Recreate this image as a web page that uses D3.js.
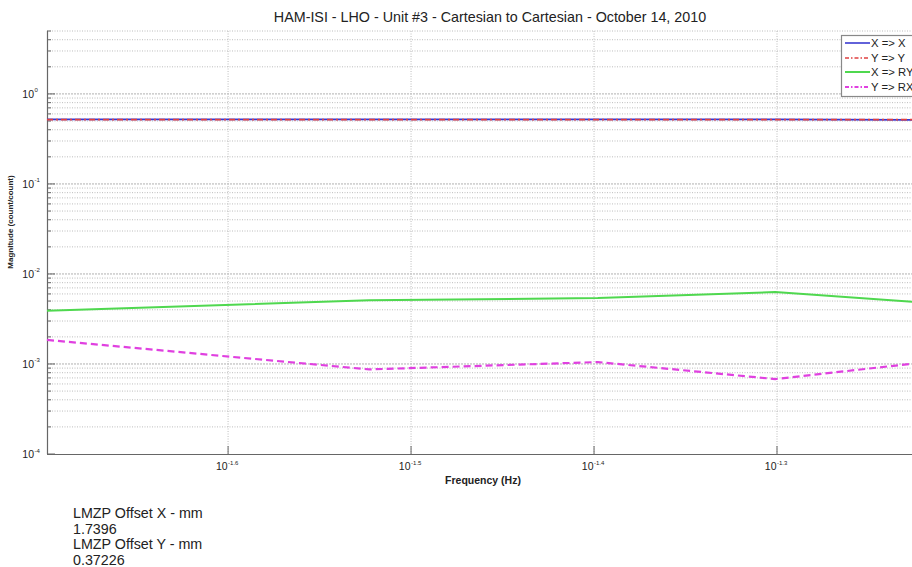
<!DOCTYPE html>
<html><head><meta charset="utf-8">
<script src="https://cdn.jsdelivr.net/npm/d3@7"></script>
<style>body{margin:0;background:#fff}svg{display:block;font-family:"Liberation Sans",Arial,sans-serif}</style>
</head><body>
<script>
const frequencies = [0.02, 0.03, 0.04, 0.05, 0.06];
const xToX = [0.522, 0.522, 0.522, 0.522, 0.515];
const yToY = [0.518, 0.518, 0.518, 0.518, 0.518];
const xToRY = [0.0039, 0.0051, 0.0054, 0.0063, 0.00485];
const yToRX = [0.00185, 0.00087, 0.00105, 0.00068, 0.00103];
const seriesNames = ["X => X", "Y => Y", "X => RY", "Y => RX"];
const xTickExps = [-1.6, -1.5, -1.4, -1.3];
const xTickLabels = ["-1.6", "-1.5", "-1.4", "-1.3"];
const yTickExps = [-4, -3, -2, -1, 0];
const yTickLabels = ["-4", "-3", "-2", "-1", "0"];
const titleText = "HAM-ISI - LHO - Unit #3 - Cartesian to Cartesian - October 14, 2010";
const notes = ["LMZP Offset X - mm", "1.7396", "LMZP Offset Y - mm", "0.37226"];

const W = 912, H = 567;
const m = {left: 47, right: 920, top: 31, bottom: 454};
const svg = d3.select("body").append("svg").attr("width", W).attr("height", H);
const x = d3.scaleLog().domain([0.02, 0.06]).range([m.left, m.right]);
const y = d3.scaleLog().domain([1e-4, 5]).range([m.bottom, m.top]);

const yMinor = [];
for (let e = -4; e <= 0; e++) for (let k = 2; k <= 9; k++) { const v = k * Math.pow(10, e); if (v <= 5) yMinor.push(v); }
const yMajor = yTickExps.map(e => Math.pow(10, e));
const xMajor = xTickExps.map(e => Math.pow(10, e));

const grid = svg.append("g");
grid.selectAll("line.ym").data(yMinor).join("line")
  .attr("x1", m.left).attr("x2", m.right).attr("y1", d => y(d)).attr("y2", d => y(d))
  .attr("stroke", "#bdbdbd").attr("stroke-width", 1).attr("stroke-dasharray", "1,1.5");
grid.selectAll("line.yM").data(yMajor.slice(1)).join("line")
  .attr("x1", m.left).attr("x2", m.right).attr("y1", d => y(d)).attr("y2", d => y(d))
  .attr("stroke", "#b0b0b0").attr("stroke-width", 1).attr("stroke-dasharray", "2,1");
grid.selectAll("line.xM").data(xMajor).join("line")
  .attr("x1", d => x(d)).attr("x2", d => x(d)).attr("y1", m.top).attr("y2", m.bottom)
  .attr("stroke", "#bdbdbd").attr("stroke-width", 1).attr("stroke-dasharray", "1,1.5");

svg.append("line").attr("x1", m.left + 0.5).attr("x2", m.left + 0.5).attr("y1", m.top).attr("y2", m.bottom)
  .attr("stroke", "#666").attr("stroke-width", 1.2);
svg.append("line").attr("x1", m.left).attr("x2", m.right).attr("y1", m.bottom + 0.5).attr("y2", m.bottom + 0.5)
  .attr("stroke", "#666").attr("stroke-width", 1.2);
svg.selectAll("line.ytk").data(yMinor.concat(yMajor)).join("line")
  .attr("x1", m.left).attr("x2", d => m.left + (yMajor.includes(d) ? 8 : 4)).attr("y1", d => y(d)).attr("y2", d => y(d))
  .attr("stroke", "#666");
svg.selectAll("line.xtk").data(xMajor).join("line")
  .attr("x1", d => x(d)).attr("x2", d => x(d)).attr("y1", m.bottom).attr("y2", m.bottom - 8)
  .attr("stroke", "#666");

svg.selectAll("text.yl").data(yTickExps).join("text")
  .attr("x", 34).attr("y", d => y(Math.pow(10, d)) + 4)
  .attr("text-anchor", "end").attr("font-size", 10.5).attr("fill", "#222").text("10");
svg.selectAll("text.ys").data(yTickExps).join("text")
  .attr("x", 34.5).attr("y", d => y(Math.pow(10, d)) - 1.5)
  .attr("font-size", 6).attr("fill", "#222").text((d, i) => yTickLabels[i]);
svg.selectAll("text.xl").data(xTickExps).join("text")
  .attr("x", d => x(Math.pow(10, d)) - 0.5).attr("y", 470)
  .attr("text-anchor", "end").attr("font-size", 10.5).attr("fill", "#222").text("10");
svg.selectAll("text.xs").data(xTickExps).join("text")
  .attr("x", d => x(Math.pow(10, d))).attr("y", 464.5)
  .attr("font-size", 6).attr("fill", "#222").text((d, i) => xTickLabels[i]);

svg.append("text").attr("x", 483).attr("y", 484).attr("text-anchor", "middle")
  .attr("font-size", 10.5).attr("font-weight", "bold").attr("fill", "#222").text("Frequency (Hz)");
svg.append("text").attr("transform", "translate(13,222) rotate(-90)").attr("text-anchor", "middle")
  .attr("font-size", 8).attr("font-weight", "bold").attr("fill", "#222").text("Magnitude (count/count)");
svg.append("text").attr("x", 490).attr("y", 22).attr("text-anchor", "middle")
  .attr("font-size", 14.3).attr("fill", "#222").text(titleText);

const styles = [
  {data: xToX, color: "#3a3ad0", width: 1.6, dash: null},
  {data: yToY, color: "#e04040", width: 1.6, dash: "6,3,2,3"},
  {data: xToRY, color: "#4fd84f", width: 2, dash: null},
  {data: yToRX, color: "#e040e0", width: 2.2, dash: "7,4"}
];
const line = d3.line().x((d, i) => x(frequencies[i])).y(d => y(d));
const plot = svg.append("g");
styles.forEach(s => {
  plot.append("path").attr("d", line(s.data)).attr("fill", "none")
    .attr("stroke", s.color).attr("stroke-width", s.width)
    .attr("stroke-dasharray", s.dash);
});

const lg = svg.append("g");
lg.append("rect").attr("x", 841.5).attr("y", 35.5).attr("width", 90).attr("height", 61)
  .attr("fill", "#fff").attr("stroke", "#888").attr("stroke-width", 1.2);
const ly = [43, 58, 72, 87];
styles.forEach((s, i) => {
  lg.append("line").attr("x1", 845).attr("x2", 870).attr("y1", ly[i]).attr("y2", ly[i])
    .attr("stroke", s.color).attr("stroke-width", s.width)
    .attr("stroke-dasharray", s.dash ? "4,2,1.5,2" : null);
  lg.append("text").attr("x", 871).attr("y", ly[i] + 4).attr("font-size", 11.3).attr("fill", "#222").text(seriesNames[i]);
});

svg.selectAll("text.note").data(notes).join("text")
  .attr("x", 73).attr("y", (d, i) => 518 + i * 15.5)
  .attr("font-size", 14.3).attr("fill", "#222").text(d => d);
</script>
</body></html>
